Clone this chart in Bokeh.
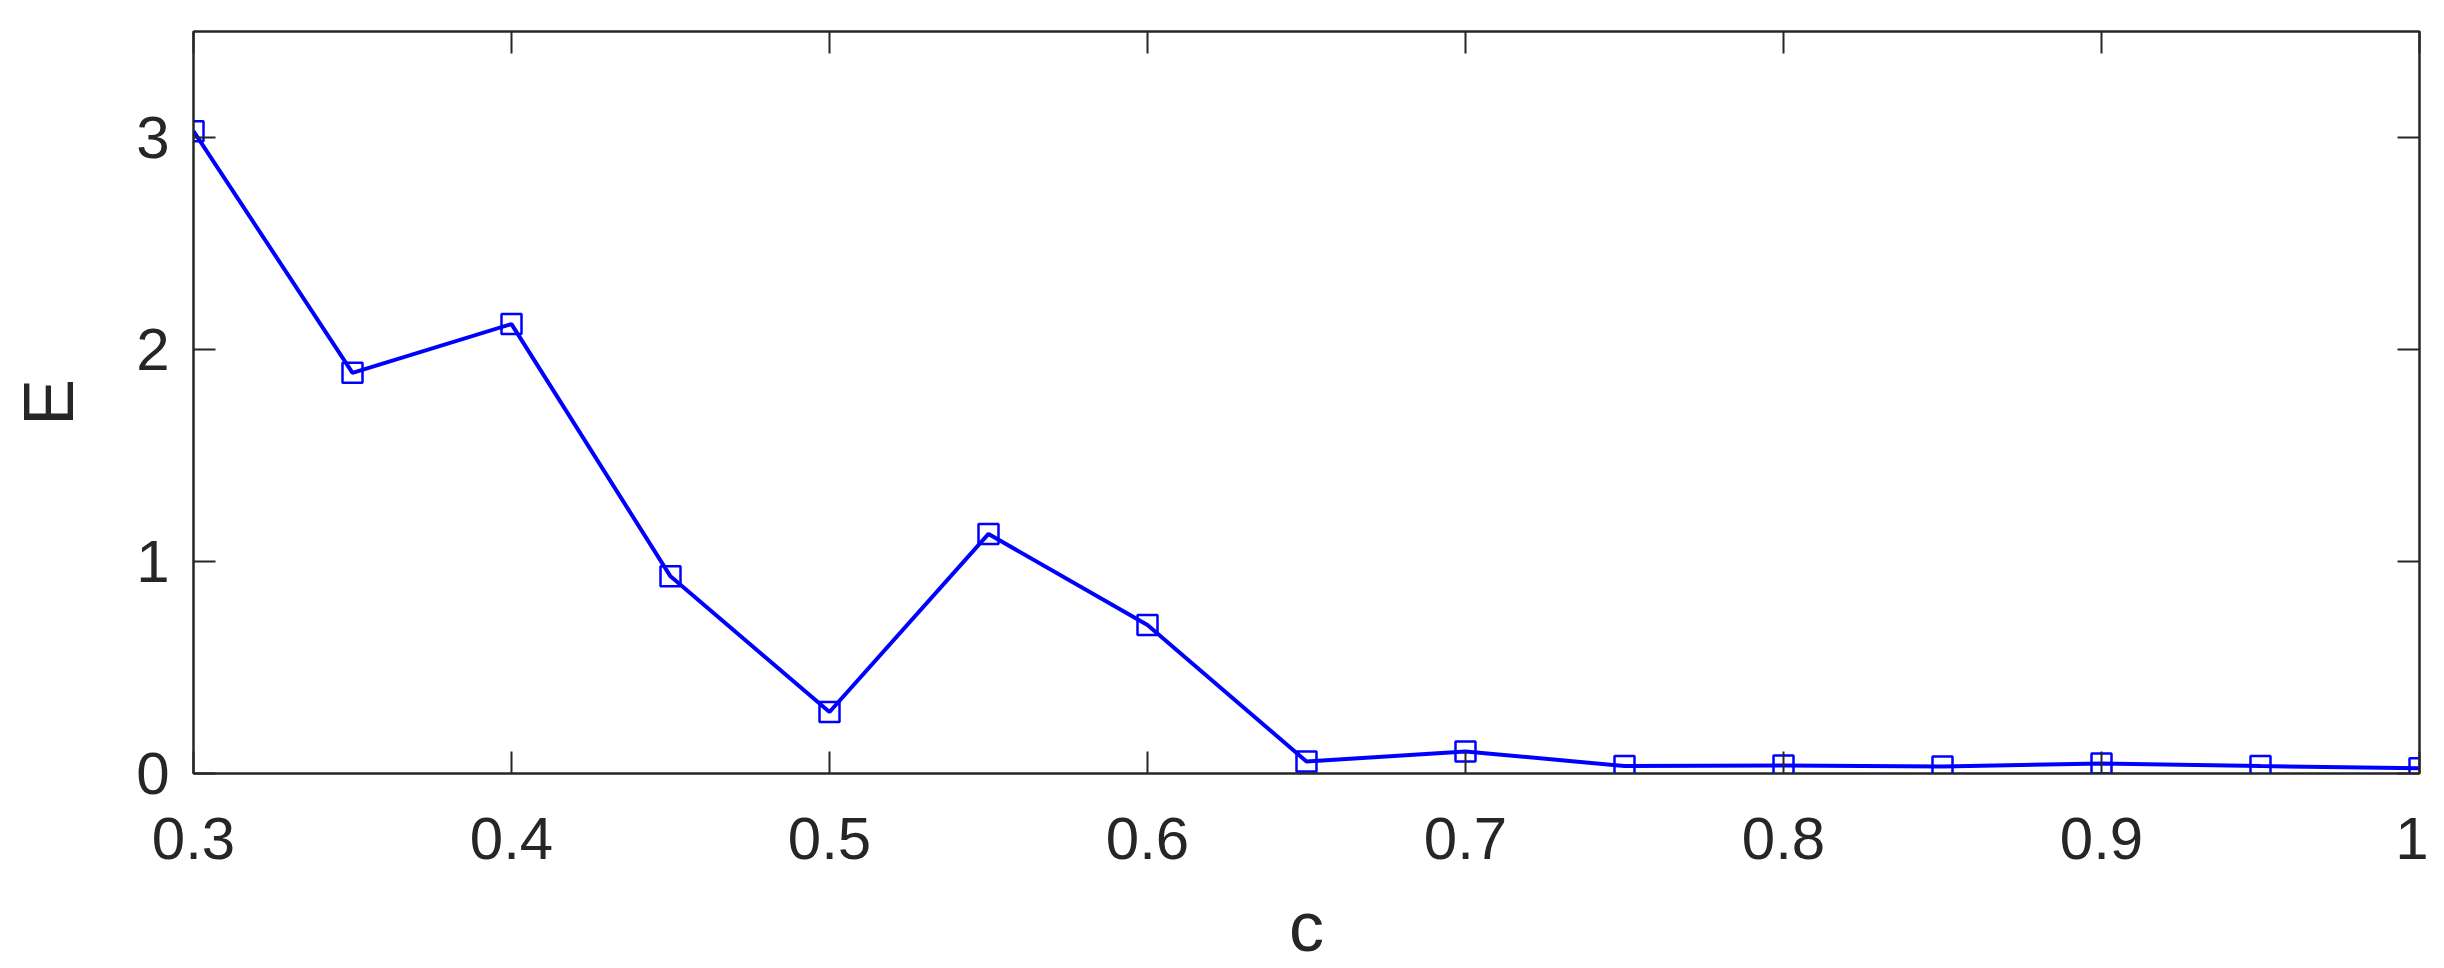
from bokeh.plotting import figure
from bokeh.models import LinearAxis, FixedTicker, CustomJSTickFormatter, Range1d
from bokeh.embed import file_html
from bokeh.resources import INLINE

c_values = [0.30, 0.35, 0.40, 0.45, 0.50, 0.55, 0.60, 0.65, 0.70, 0.75, 0.80, 0.85, 0.90, 0.95, 1.00]
E_values = [3.03, 1.89, 2.12, 0.93, 0.29, 1.13, 0.70, 0.057, 0.104, 0.035, 0.038, 0.033, 0.047, 0.035, 0.025]
x_ticks = [0.3, 0.4, 0.5, 0.6, 0.7, 0.8, 0.9, 1.0]
y_ticks = [0, 1, 2, 3]

AX = "#262626"
FONT = "Liberation Sans"
TICK_FS = "60px"
LABEL_FS = "70px"

p = figure(width=2428, height=968, output_backend="svg", toolbar_location=None,
           x_range=Range1d(0.3, 1.0), y_range=Range1d(0, 3.5),
           min_border_left=193, min_border_right=9, min_border_top=31, min_border_bottom=195,
           x_axis_label="c", y_axis_label="E")
p.grid.visible = False
p.background_fill_color = "white"
p.border_fill_color = "white"
p.outline_line_color = AX
p.outline_line_width = 2

fmt = CustomJSTickFormatter(code="return String(Math.round(tick*10)/10);")
blank = CustomJSTickFormatter(code="return '';")

for ax in p.xaxis:
    ax.ticker = FixedTicker(ticks=x_ticks)
    ax.formatter = fmt
for ax in p.yaxis:
    ax.ticker = FixedTicker(ticks=y_ticks)

for ax in list(p.xaxis) + list(p.yaxis):
    ax.axis_line_color = AX
    ax.axis_line_width = 2
    ax.major_tick_line_color = AX
    ax.major_tick_line_width = 2
    ax.major_tick_in = 22
    ax.major_tick_out = 0
    ax.minor_tick_line_color = None
    ax.major_label_text_font = FONT
    ax.major_label_text_font_size = TICK_FS
    ax.major_label_text_color = AX
    ax.axis_label_text_font = FONT
    ax.axis_label_text_font_size = LABEL_FS
    ax.axis_label_text_font_style = "normal"
    ax.axis_label_text_color = AX

p.xaxis.major_label_standoff = 44
p.xaxis.axis_label_standoff = 26
p.yaxis.major_label_standoff = 24
p.yaxis.axis_label_standoff = 45

# box ticks on top and right
top = LinearAxis(ticker=FixedTicker(ticks=x_ticks), formatter=blank,
                 major_label_standoff=0, axis_line_color=AX, axis_line_width=2,
                 major_tick_line_color=AX, major_tick_line_width=2,
                 major_tick_in=22, major_tick_out=0, minor_tick_line_color=None)
right = LinearAxis(ticker=FixedTicker(ticks=y_ticks), formatter=blank,
                   major_label_standoff=0, axis_line_color=AX, axis_line_width=2,
                   major_tick_line_color=AX, major_tick_line_width=2,
                   major_tick_in=22, major_tick_out=0, minor_tick_line_color=None)
p.add_layout(top, "above")
p.add_layout(right, "right")

p.line(c_values, E_values, line_color="#0000FF", line_width=4)
p.scatter(c_values, E_values, marker="square", size=20, fill_color=None,
          line_color="#0000FF", line_width=2.5)

open("out.html", "w").write(file_html(p, INLINE))
